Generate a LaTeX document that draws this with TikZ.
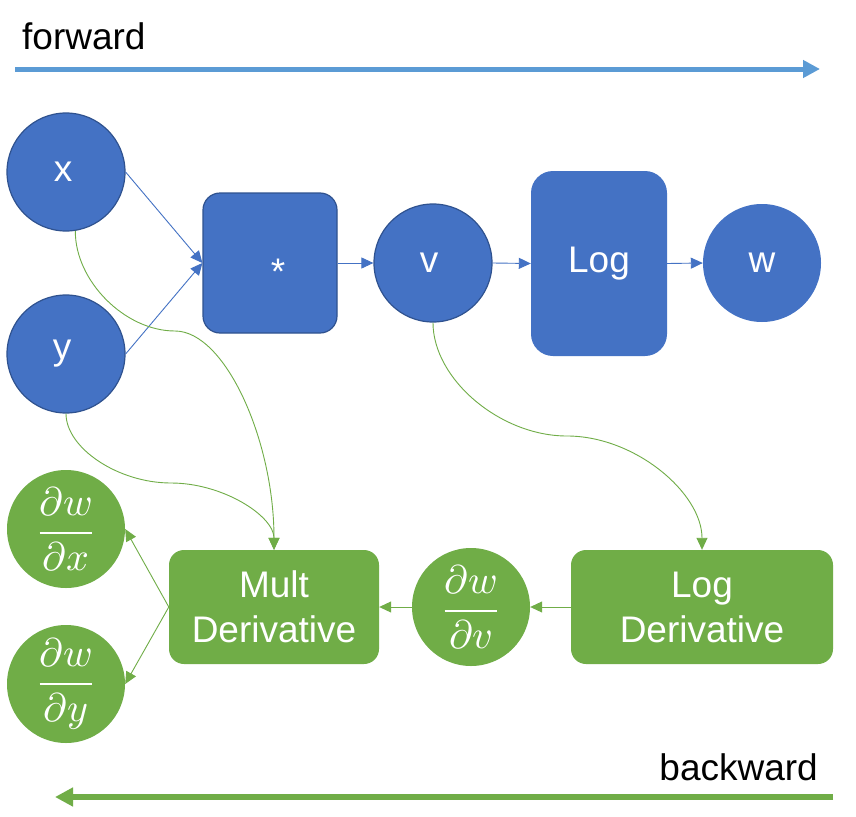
\documentclass[tikz,border=0pt]{standalone}
\usepackage{fontspec}
\usepackage{unicode-math}
\setmainfont{Liberation Sans}
\setmathfont{Latin Modern Math}
\usetikzlibrary{arrows.meta}
\definecolor{blu}{HTML}{4472C4}
\definecolor{bluedge}{HTML}{2F528F}
\definecolor{grn}{HTML}{70AD47}
\definecolor{fwdc}{HTML}{5B9BD5}
\tikzset{
  lbl/.style={font=\fontsize{37}{45}\selectfont, text=white, inner sep=0pt, align=center},
  mathlbl/.style={font=\fontsize{40}{48}\selectfont},
  bcirc/.style={lbl, circle, fill=blu, minimum size=118pt},
  gcirc/.style={lbl, circle, fill=grn, minimum size=118pt},
  edged/.style={draw=bluedge, line width=1.2pt},
  bbox/.style={lbl, rectangle, fill=blu},
  gbox/.style={lbl, rectangle, fill=grn, rounded corners=15pt, minimum height=114pt},
  bcon/.style={draw=blu, line width=0.9pt, -{Triangle[length=12pt,width=11pt]}},
  gcon/.style={draw=grn, line width=0.9pt, -{Triangle[length=12pt,width=11pt]}},
  title/.style={font=\fontsize{37}{45}\selectfont, text=black, inner sep=0pt}
}
\begin{document}
\begin{tikzpicture}[x=1pt,y=-1pt]
\useasboundingbox (0,0) rectangle (856,816);
\fill[white] (0,0) rectangle (856,816);

% direction banners
\node[title, anchor=base west] (fwdtxt) at (22,49) {forward};
\coordinate (fs) at (15,69);
\coordinate (fe) at (820,69);
\draw[fwdc, line width=5pt, -{Triangle[length=17pt,width=17pt]}] (fs) -- (fe);

\node[title, anchor=base east] (bwdtxt) at (818,780) {backward};
\coordinate (bs) at (833,797);
\coordinate (be) at (55,797);
\draw[grn, line width=6pt, -{Triangle[length=18pt,width=18pt]}] (bs) -- (be);

% forward graph
\node[bcirc, edged] (x) at (66,172) {\hspace{-6pt}x};
\node[bcirc, edged] (y) at (66,354) {\hspace{-8pt}y};
\node[bbox, edged, rounded corners=17pt, minimum width=134pt, minimum height=140pt] (mul) at (270,263)
  {\hspace{16pt}\smash{\raisebox{-21pt}{*}}};
\node[bcirc, edged] (v) at (433,263) {\hspace{-8pt}v};
\node[bbox, rounded corners=22pt, minimum width=136pt, minimum height=185pt] (log) at (599,263.5) {Log};
\node[bcirc] (w) at (762,263) {w};

\draw[bcon] (x.east) -- (mul.west);
\draw[bcon] (y.east) -- (mul.west);
\draw[bcon] (mul.east) -- (v.west);
\draw[bcon] (v.east) -- (log.west);
\draw[bcon] (log.east) -- (w.west);

% backward graph
\node[gcirc, mathlbl] (dwdx) at (66,529) {$\displaystyle\frac{\partial w}{\partial x}$};
\node[gcirc, mathlbl] (dwdy) at (66,684) {$\displaystyle\frac{\partial w}{\partial y}$};
\node[gbox, minimum width=210pt] (mult) at (274,607) {Mult\\Derivative};
\node[gcirc, mathlbl] (dwdv) at (471,607) {$\displaystyle\frac{\partial w}{\partial v}$};
\node[gbox, minimum width=262pt] (logd) at (702,607) {Log\\Derivative};

\draw[gcon] (logd.west) -- (dwdv.east);
\draw[gcon] (dwdv.west) -- (mult.east);
\draw[gcon] (mult.west) -- (dwdx.east);
\draw[gcon] (mult.west) -- (dwdy.east);

% curved links from forward values to derivative blocks
\coordinate (xmid) at (175,331);
\coordinate (ymid) at (171,483);
\coordinate (vmid) at (567,436);
\draw[gcon] (x.-81) .. controls (75,281) and (125,331) .. (xmid)
  .. controls (225,331) and (274,440) .. (mult.north);
\draw[gcon] (y.south) .. controls (66,448) and (118,483) .. (ymid)
  .. controls (223,483) and (274,516) .. (mult.north);
\draw[gcon] (v.south) .. controls (433,379) and (500,436) .. (vmid)
  .. controls (635,436) and (702,493) .. (logd.north);
\end{tikzpicture}
\end{document}
